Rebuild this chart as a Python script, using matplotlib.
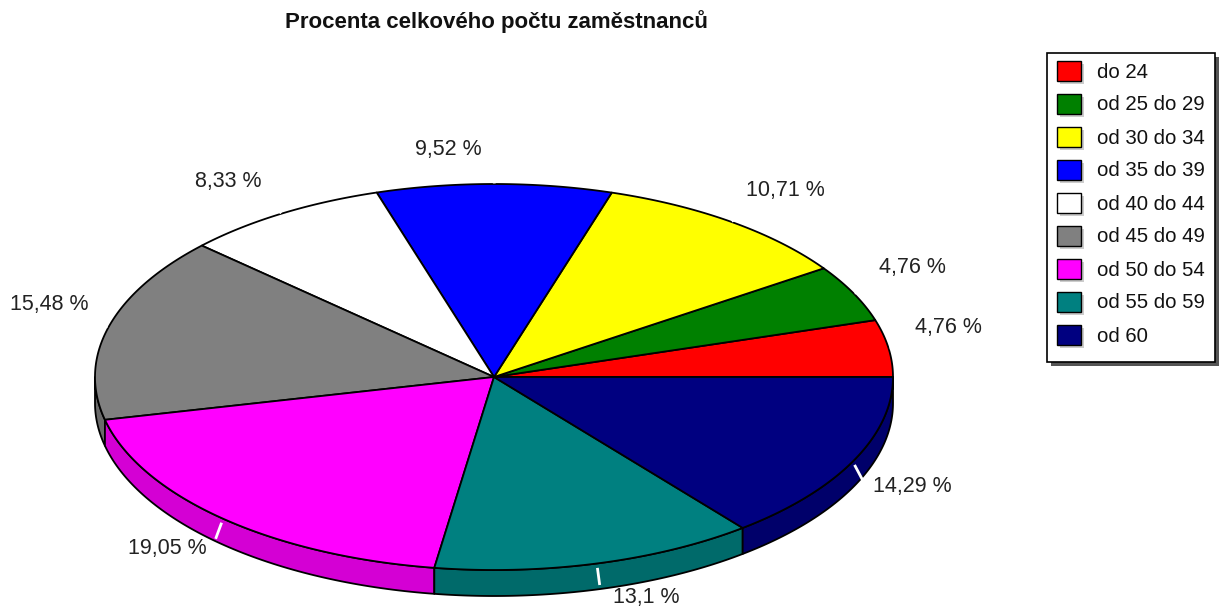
import numpy as np
import matplotlib.pyplot as plt
from matplotlib.patches import Polygon, Rectangle
from matplotlib.colors import to_rgb

plt.rcParams['font.family'] = ['Liberation Sans', 'DejaVu Sans']

title = "Procenta celkového počtu zaměstnanců"
categories = ["do 24", "od 25 do 29", "od 30 do 34", "od 35 do 39", "od 40 do 44",
              "od 45 do 49", "od 50 do 54", "od 55 do 59", "od 60"]
values = [4.76, 4.76, 10.71, 9.52, 8.33, 15.48, 19.05, 13.1, 14.29]
labels = ["4,76 %", "4,76 %", "10,71 %", "9,52 %", "8,33 %",
          "15,48 %", "19,05 %", "13,1 %", "14,29 %"]
colors = ["#FF0000", "#008000", "#FFFF00", "#0000FF", "#FFFFFF",
          "#808080", "#FF00FF", "#008080", "#000080"]

W, H = 1222, 611
fig = plt.figure(figsize=(W / 100, H / 100), dpi=100)
ax = fig.add_axes([0, 0, 1, 1])
ax.set_xlim(0, W)
ax.set_ylim(H, 0)
ax.axis("off")

# pie geometry (pixels)
cx, cy = 494, 377
rx, ry = 399, 193
depth = 26


def rim(a_deg, dy=0.0, scale=1.0):
    a = np.radians(a_deg)
    return np.column_stack([cx + scale * rx * np.cos(a),
                            cy - scale * ry * np.sin(a) + dy])


def darker(c, f=0.83):
    return tuple(v * f for v in to_rgb(c))


frac = np.array(values) / np.sum(values)
bounds = np.concatenate([[0], np.cumsum(frac) * 360])

# side walls (front half only)
for i, c in enumerate(colors):
    lo, hi = max(bounds[i], 180), min(bounds[i + 1], 360)
    if lo >= hi:
        continue
    a = np.linspace(lo, hi, 80)
    pts = np.vstack([rim(a), rim(a[::-1], dy=depth)])
    ax.add_patch(Polygon(pts, closed=True, fc=darker(c), ec="black", lw=1.3,
                         joinstyle="round", zorder=2))

# top faces
for i, c in enumerate(colors):
    a = np.linspace(bounds[i], bounds[i + 1], 120)
    pts = np.vstack([[cx, cy], rim(a)])
    ax.add_patch(Polygon(pts, closed=True, fc=c, ec="black", lw=1.3,
                         joinstyle="round", zorder=3))

# white leader ticks and labels
for i, lab in enumerate(labels):
    m = (bounds[i] + bounds[i + 1]) / 2
    co, s = np.cos(np.radians(m)), np.sin(np.radians(m))
    front = s < 0
    p0 = rim(m, dy=depth * 0.15 if front else 0, scale=1.003)[0]
    p1 = rim(m, dy=depth * 0.65 if front else 0, scale=1.025)[0]
    ax.plot([p0[0], p1[0]], [p0[1], p1[1]], color="white", lw=2, zorder=4,
            solid_capstyle="butt")
    base = rim(m)[0]
    sx = 1 if co > 0.01 else -1
    sy = 1 if s > 0 else -1
    lx = base[0] + sx * (46 + 14 * abs(co))
    ly = base[1] - sy * (18 + 17 * abs(s))
    ax.text(lx, ly, lab, ha="center", va="center", fontsize=15.5,
            color="#222222", zorder=5)

ax.text(496, 22, title, ha="center", va="center", fontsize=16,
        fontweight="bold", color="#111111")

# legend
lx0, ly0, lw_, lh_ = 1047, 53, 168, 309
ax.add_patch(Rectangle((lx0 + 4, ly0 + 4), lw_, lh_, fc="#555555", ec="none", zorder=1))
ax.add_patch(Rectangle((lx0, ly0), lw_, lh_, fc="white", ec="black", lw=1.2, zorder=2))
row0, step = 72, 33
for i, (name, c) in enumerate(zip(categories, colors)):
    y = row0 + i * step
    ax.add_patch(Rectangle((1060, y - 8), 24, 20, fc="#cccccc", ec="none", zorder=3))
    ax.add_patch(Rectangle((1057, y - 11), 24, 20, fc=c, ec="black", lw=1.0, zorder=4))
    ax.text(1097, y, name, ha="left", va="center", fontsize=14.7,
            color="#111111", zorder=5)

fig.savefig("out.png", dpi=100, facecolor="white")
